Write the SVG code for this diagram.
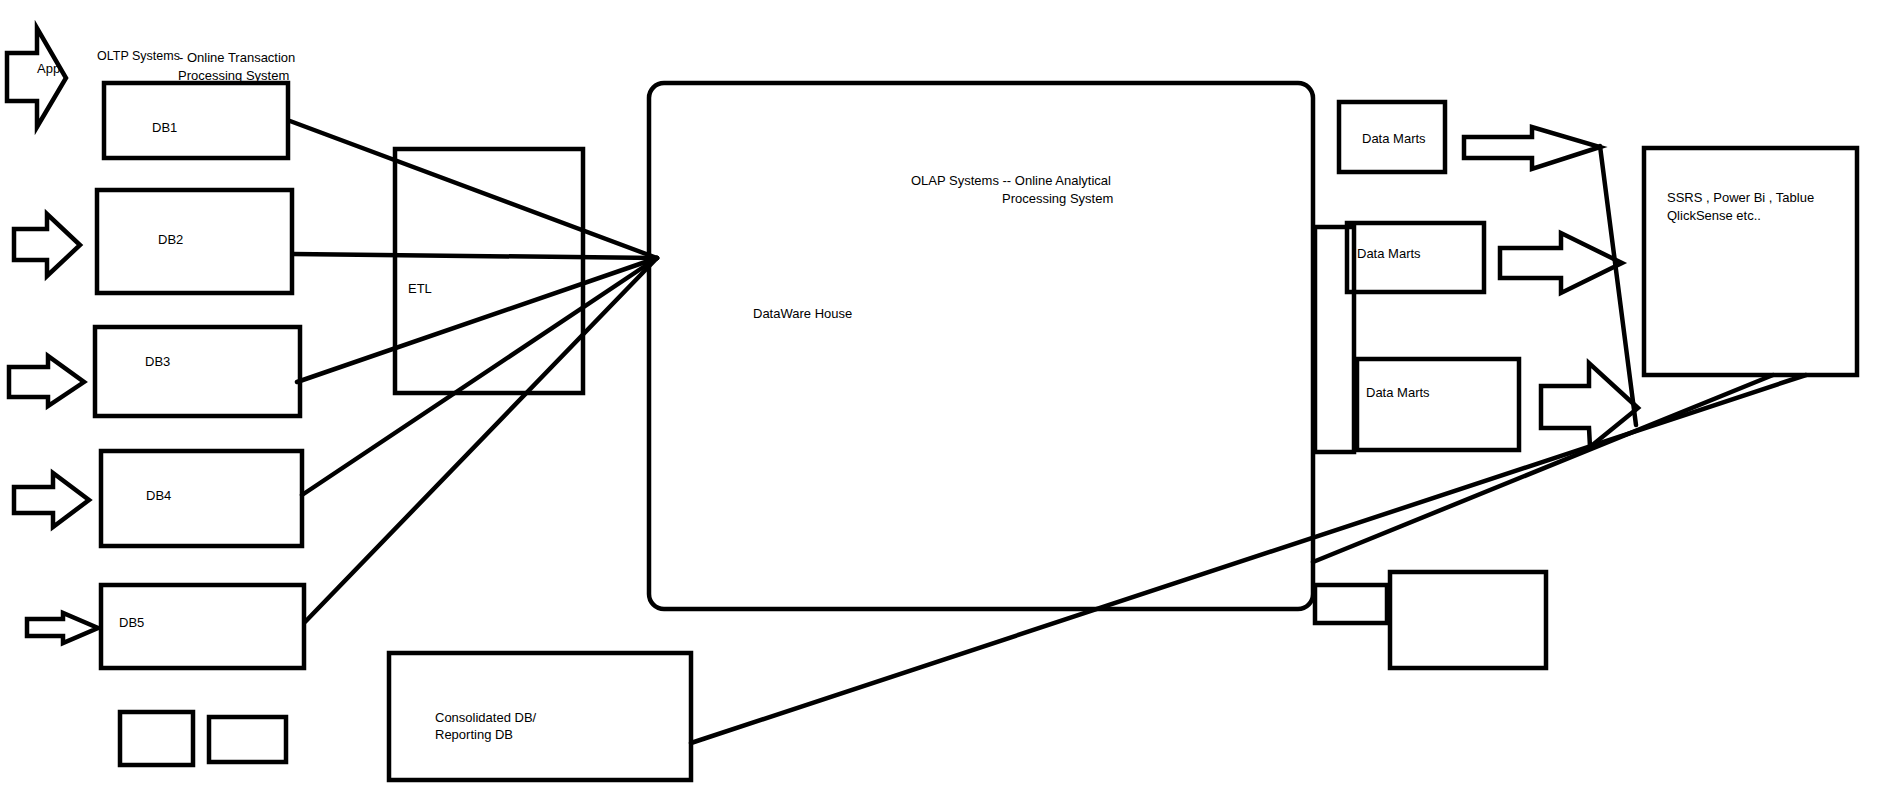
<svg xmlns="http://www.w3.org/2000/svg" width="1879" height="786" viewBox="0 0 1879 786">
<style>
.b{fill:#fff;stroke:#000;stroke-width:4.5}
.n{fill:none;stroke:#000;stroke-width:4.5}
.a{fill:#fff;stroke:#000;stroke-width:4.5;stroke-linejoin:miter}
.c line{stroke:#000;stroke-width:4.5;stroke-linecap:round}
text{font-family:"Liberation Sans",Arial,sans-serif;font-size:13px;fill:#000}
</style>
<rect width="1879" height="786" fill="#fff"/>
<g id="oltp-label"><text x="97" y="60" style="font-size:12.5px">OLTP Systems</text><text x="179" y="62">- Online Transaction</text><text x="178" y="80">Processing System</text></g>
<g id="app"><polygon class="a" points="7,53 37,53 37,28 66,78 37,127 37,101 7,101"/><text x="37" y="73">App</text></g>
<g id="arrow-db2"><polygon class="a" points="14,229 47,229 47,214 80,245 47,276 47,260 14,260"/></g>
<g id="arrow-db3"><polygon class="a" points="9,367 48,367 48,356 84,382 48,406 48,397 9,397"/></g>
<g id="arrow-db4"><polygon class="a" points="14,487 53,487 53,473 89,500 53,527 53,513 14,513"/></g>
<g id="arrow-db5"><polygon class="a" points="27,619 63,619 63,613 98,628 63,643 63,636 27,636"/></g>
<g id="db1"><rect class="b" x="104" y="83" width="184" height="75"/><text x="152" y="132">DB1</text></g>
<g id="db2"><rect class="b" x="97" y="190" width="195" height="103"/><text x="158" y="244">DB2</text></g>
<g id="db3"><rect class="b" x="95" y="327" width="205" height="89"/><text x="145" y="366">DB3</text></g>
<g id="db4"><rect class="b" x="101" y="451" width="201" height="95"/><text x="146" y="500">DB4</text></g>
<g id="db5"><rect class="b" x="101" y="585" width="203" height="83"/><text x="119" y="627">DB5</text></g>
<g id="small-box-1"><rect class="b" x="120" y="712" width="73" height="53"/></g>
<g id="small-box-2"><rect class="b" x="209" y="717" width="77" height="45"/></g>
<g id="etl"><rect class="n" x="395" y="149" width="188" height="244"/><text x="408" y="293">ETL</text></g>
<g id="warehouse"><rect class="b" x="649" y="83" width="664" height="526" rx="15"/><text x="911" y="185">OLAP Systems -- Online Analytical</text><text x="1002" y="203">Processing System</text><text x="753" y="318">DataWare House</text></g>
<g id="consolidated"><rect class="b" x="389" y="653" width="302" height="127"/><text x="435" y="722">Consolidated DB/</text><text x="435" y="739">Reporting DB</text></g>
<g id="mart-strip"><rect class="n" x="1315" y="227" width="39" height="225"/></g>
<g id="dm1"><rect class="b" x="1339" y="102" width="106" height="70"/><text x="1362" y="143">Data Marts</text></g>
<g id="dm2"><rect class="n" x="1347" y="223" width="137" height="69"/><text x="1357" y="258">Data Marts</text></g>
<g id="dm3"><rect class="b" x="1357" y="359" width="162" height="91"/><text x="1366" y="397">Data Marts</text></g>
<g id="arrow-dm1"><polygon class="a" points="1464,137 1532,137 1532,127 1600,147 1532,169 1532,158 1464,158"/></g>
<g id="arrow-dm2"><polygon class="a" points="1500,248 1561,248 1561,233 1622,263 1561,293 1561,278 1500,278"/></g>
<g id="arrow-dm3"><polygon class="a" points="1541,386 1589,386 1589,363 1638,408 1590,447 1589,428 1541,428"/></g>
<g id="ssrs"><rect class="b" x="1644" y="148" width="213" height="227"/><text x="1667" y="202">SSRS , Power Bi , Tablue</text><text x="1667" y="220">QlickSense etc..</text></g>
<g id="small-box-3"><rect class="b" x="1315" y="585" width="72" height="38"/></g>
<g id="small-box-4"><rect class="b" x="1390" y="572" width="156" height="96"/></g>
<g id="connectors" class="c">
<line x1="290" y1="121" x2="657" y2="258"/>
<line x1="293" y1="254" x2="657" y2="258"/>
<line x1="297" y1="382" x2="657" y2="258"/>
<line x1="302" y1="495" x2="657" y2="258"/>
<line x1="305" y1="622" x2="657" y2="258"/>
<line x1="1600" y1="146" x2="1636" y2="425"/>
<line x1="691" y1="743" x2="1806" y2="375"/>
<line x1="1313" y1="562" x2="1773" y2="375"/>
</g>
</svg>
